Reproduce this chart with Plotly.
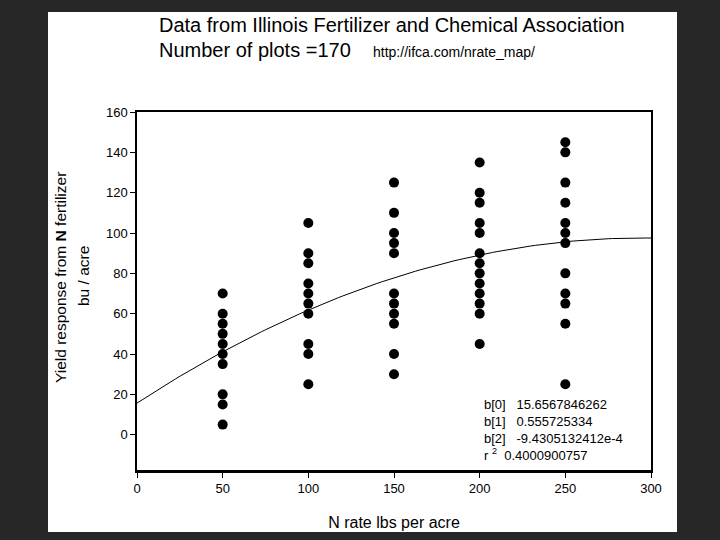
import plotly.graph_objects as go
import numpy as np

# ---- data ----
n_rate_50 = [50] * 10
yield_50 = [70, 60, 55, 50, 45, 40, 35, 20, 15, 5]
n_rate_100 = [100] * 10
yield_100 = [105, 90, 85, 75, 70, 65, 60, 45, 40, 25]
n_rate_150 = [150] * 11
yield_150 = [125, 110, 100, 95, 90, 70, 65, 60, 55, 40, 30]
n_rate_200 = [200] * 13
yield_200 = [135, 120, 115, 105, 100, 90, 85, 80, 75, 70, 65, 60, 45]
n_rate_250 = [250] * 12
yield_250 = [145, 140, 125, 115, 105, 100, 95, 80, 70, 65, 55, 25]

# fitted quadratic (coefficients printed on the chart)
b0 = 15.6567846262
b1 = 0.555725334
b2 = -9.4305132412e-4
r2 = 0.4000900757

coef_text = ("b[0]&nbsp;&nbsp;&nbsp;15.6567846262<br>"
             "b[1]&nbsp;&nbsp;&nbsp;0.555725334<br>"
             "b[2]&nbsp;&nbsp;&nbsp;-9.4305132412e-4<br>"
             "r <sup>2</sup>&nbsp;&nbsp;0.4000900757")

x_ticks = [0, 50, 100, 150, 200, 250, 300]
y_ticks = [0, 20, 40, 60, 80, 100, 120, 140, 160]

xs = n_rate_50 + n_rate_100 + n_rate_150 + n_rate_200 + n_rate_250
ys = yield_50 + yield_100 + yield_150 + yield_200 + yield_250

fit_x = np.linspace(0, 300, 121)
fit_y = b0 + b1 * fit_x + b2 * fit_x ** 2

fig = go.Figure()
fig.add_trace(go.Scatter(x=xs, y=ys, mode="markers",
                         marker=dict(color="black", size=10), showlegend=False,
                         cliponaxis=False))
fig.add_trace(go.Scatter(x=fit_x, y=fit_y, mode="lines",
                         line=dict(color="black", width=1), showlegend=False))

W, H = 720, 540
L, R, T, B = 137, 651, 112, 471
pw, ph = R - L, B - T


def px(x):
    return (x - L) / pw


def py(y):
    return (B - y) / ph


font = "Liberation Sans, Arial, sans-serif"

shapes = [
    # white slide panel
    dict(type="rect", xref="paper", yref="paper", x0=px(48), x1=px(677), y0=py(532), y1=py(12),
         fillcolor="white", line=dict(width=0), layer="below"),
    # thicker bottom axis line
    dict(type="line", xref="paper", yref="paper", x0=0, x1=1, y0=0, y1=0,
         line=dict(color="black", width=2)),
]

annotations = [
    dict(text="Data from Illinois Fertilizer and Chemical Association", xref="paper", yref="paper",
         x=px(157), y=py(25), xanchor="left", yanchor="middle", showarrow=False,
         font=dict(family=font, size=20, color="black")),
    dict(text="Number of plots =170", xref="paper", yref="paper",
         x=px(157), y=py(50), xanchor="left", yanchor="middle", showarrow=False,
         font=dict(family=font, size=20, color="black")),
    dict(text="http://ifca.com/nrate_map/", xref="paper", yref="paper",
         x=px(371), y=py(52), xanchor="left", yanchor="middle", showarrow=False,
         font=dict(family=font, size=14, color="black")),
    dict(text=coef_text, xref="paper", yref="paper", x=px(482), y=py(430),
         xanchor="left", yanchor="middle", align="left", showarrow=False,
         font=dict(family=font, size=13, color="black")),
    # y-axis title (two lines, rotated)
    dict(text="Yield response from <b>N</b> fertilizer", xref="paper", yref="paper",
         x=px(60), y=py(278), xanchor="center", yanchor="middle", textangle=-90, showarrow=False,
         font=dict(family=font, size=15.5, color="black")),
    dict(text="bu / acre", xref="paper", yref="paper",
         x=px(83), y=py(276), xanchor="center", yanchor="middle", textangle=-90, showarrow=False,
         font=dict(family=font, size=15.5, color="black")),
]

fig.update_layout(
    width=W, height=H,
    margin=dict(l=L, r=W - R, t=T, b=H - B, pad=0),
    paper_bgcolor="#272727",
    plot_bgcolor="white",
    shapes=shapes,
    annotations=annotations,
    font=dict(family=font, color="black"),
    xaxis=dict(range=[0, 300], tickvals=x_ticks, ticktext=[str(v) for v in x_ticks],
               showgrid=False, zeroline=False, showline=True, linecolor="black", linewidth=1.5,
               mirror=True, ticks="outside", ticklen=5, tickwidth=1, tickcolor="black",
               tickfont=dict(size=13, family=font),
               title=dict(text="N rate lbs per acre", font=dict(size=16, family=font), standoff=21)),
    yaxis=dict(range=[-18, 160], tickvals=y_ticks, ticktext=[str(v) for v in y_ticks],
               showgrid=False, zeroline=False, showline=True, linecolor="black", linewidth=1.5,
               mirror=True, ticks="outside", ticklen=5, tickwidth=1, tickcolor="black",
               tickfont=dict(size=13, family=font)),
)

fig.write_html("out.html", config={"displayModeBar": False},
               post_script="document.body.style.margin='0';document.body.style.background='#272727';")
